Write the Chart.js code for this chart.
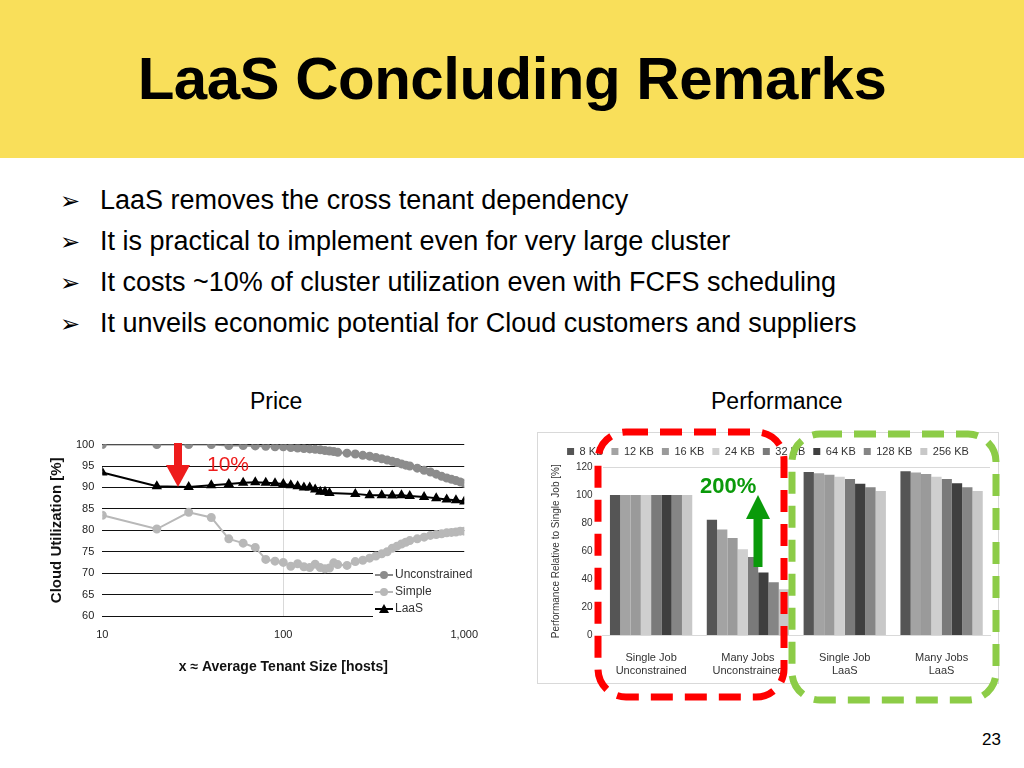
<!DOCTYPE html>
<html>
<head>
<meta charset="utf-8">
<script src="https://cdn.jsdelivr.net/npm/chart.js@4"></script>
<style>
body { margin:0; width:1024px; height:768px; background:#fff; font-family:"Liberation Sans", Arial, sans-serif; position:relative; overflow:hidden; }
#head { position:absolute; left:0; top:0; width:1024px; height:158px; background:#f9df5a; }
#head h1 { margin:0; position:absolute; left:0; width:1024px; top:44px; text-align:center; font-size:60px; font-weight:bold; color:#000; letter-spacing:-0.5px; }
ul { position:absolute; left:60px; top:185px; margin:0; padding:0; list-style:none; font-size:27px; }
li { height:41px; }
li span.m { display:inline-block; width:40px; font-size:24px; }
.lbl { position:absolute; font-size:23px; }
#c1 { position:absolute; left:40px; top:430px; }
#c2 { position:absolute; left:530px; top:420px; }
#pg { position:absolute; left:982px; top:730px; font-size:17px; }
</style>
</head>
<body>
<div id="head"><h1>LaaS Concluding Remarks</h1></div>
<ul>
<li><span class="m">➢</span>LaaS removes the cross tenant dependency</li>
<li><span class="m">➢</span>It is practical to implement even for very large cluster</li>
<li><span class="m">➢</span>It costs ~10% of cluster utilization even with FCFS scheduling</li>
<li><span class="m">➢</span>It unveils economic potential for Cloud customers and suppliers</li>
</ul>
<div class="lbl" style="left:250px;top:388px">Price</div>
<div class="lbl" style="left:711px;top:388px">Performance</div>
<canvas id="c1" width="450" height="250"></canvas>
<canvas id="c2" width="480" height="290"></canvas>
<div id="pg">23</div>
<script>
// left chart data
const hostSizes = [10,20,30,40,50,60,70,80,90,100,110,120,130,140,150,160,170,180,190,200,225,250,275,300,325,350,375,400,425,450,475,500,550,600,650,700,750,800,850,900,950,1000];
const unconstrained = [100,100,100,100,99.8,99.8,99.7,99.6,99.5,99.5,99.3,99.2,99.1,99,98.9,98.8,98.6,98.5,98.4,98.2,98,97.8,97.5,97.3,97,96.7,96.4,96.1,95.8,95.5,95.2,95,94.5,94,93.6,93.1,92.6,92.2,91.9,91.6,91.3,91];
const simple = [83.5,80.3,84.2,83,78,77,76,73.2,72.8,72.5,71.6,72.2,71.5,71.3,72.1,71.3,71,71.2,72.4,72,71.8,72.7,73,73.5,74,74.5,75,75.8,76.3,76.8,77.2,77.6,78,78.4,78.8,79,79.2,79.4,79.5,79.6,79.8,79.8];
const laasSizes = [10,20,30,40,50,60,70,80,90,100,110,120,130,140,150,160,170,180,250,300,350,400,450,500,600,700,800,900,1000];
const laas = [93.5,90.3,90.1,90.5,90.8,91.1,91.2,91.1,91,90.8,90.5,90.3,90,90,89.5,89,89,88.7,88.5,88.2,88.2,88.1,88.2,88,87.8,87.5,87.2,87,86.7];
const utilTicks = [60,65,70,75,80,85,90,95,100];

// right chart data
const perfCategories = [['Single Job','Unconstrained'],['Many Jobs','Unconstrained'],['Single Job','LaaS'],['Many Jobs','LaaS']];
const blockSizes = ['8 KB','12 KB','16 KB','24 KB','32 KB','64 KB','128 KB','256 KB'];
const perf8 = [100,82.5,116.5,117];
const perf12 = [100,75.5,115.5,116];
const perf16 = [100,69.5,114.5,115];
const perf24 = [100,61.5,113,113];
const perf32 = [100,56,111.5,111.5];
const perf64 = [100,45,108,108.5];
const perf128 = [100,38,105.5,105.5];
const perf256 = [100,33,103,103];
const perfTicks = [0,20,40,60,80,100,120];

const grays = ['#555555','#a3a3a3','#9a9a9a','#cfcfcf','#7a7a7a','#3f3f3f','#858585','#c8c8c8'];

function pts(xs, ys) { return xs.map((x, i) => ({x: x, y: ys[i]})); }

function arrow(ctx, x, y0, y1, color, w, hw, hl) {
    let dir = y1 > y0 ? 1 : -1;
    ctx.fillStyle = color;
    ctx.fillRect(x - w / 2, Math.min(y0, y1 - dir * hl), w, Math.abs(y1 - dir * hl - y0));
    ctx.beginPath();
    ctx.moveTo(x - hw / 2, y1 - dir * hl);
    ctx.lineTo(x + hw / 2, y1 - dir * hl);
    ctx.lineTo(x, y1);
    ctx.closePath();
    ctx.fill();
}

function roundBox(ctx, x, y, w, h, r, color) {
    ctx.save();
    ctx.strokeStyle = color;
    ctx.lineWidth = 7;
    ctx.setLineDash([22, 12]);
    ctx.beginPath();
    ctx.roundRect(x, y, w, h, r);
    ctx.stroke();
    ctx.restore();
}

const leftDecor = {
    id: 'leftDecor',
    afterDraw(chart) {
        let ctx = chart.ctx;
        // legend inside plot
        let items = [['Unconstrained','#8c8c8c','circle'],['Simple','#b8b8b8','circle'],['LaaS','#000','tri']];
        ctx.save();
        ctx.font = '12px "Liberation Sans", Arial';
        ctx.textBaseline = 'middle';
        items.forEach(function (it, i) {
            let y = 145 + i * 17, x = 335;
            ctx.fillStyle = '#fff';
            ctx.fillRect(x - 2, y - 8, 96, 17);
            ctx.strokeStyle = it[1]; ctx.fillStyle = it[1]; ctx.lineWidth = 2;
            ctx.beginPath(); ctx.moveTo(x, y); ctx.lineTo(x + 18, y); ctx.stroke();
            ctx.beginPath();
            if (it[2] === 'circle') ctx.arc(x + 9, y, 4, 0, Math.PI * 2);
            else { ctx.moveTo(x + 4, y + 4); ctx.lineTo(x + 14, y + 4); ctx.lineTo(x + 9, y - 5); }
            ctx.fill();
            ctx.fillStyle = '#333';
            ctx.fillText(it[0], x + 20, y);
        });
        // annotation
        arrow(ctx, 138, 13, 57, '#ee1c1c', 8, 24, 22);
        ctx.fillStyle = '#ee1c1c';
        ctx.font = '21px "Liberation Sans", Arial';
        ctx.fillText('10%', 167, 35);
        ctx.restore();
    }
};

new Chart(document.getElementById('c1').getContext('2d'), {
    type: 'line',
    data: {
        datasets: [
            { label: 'Unconstrained', data: pts(hostSizes, unconstrained), borderColor: '#8c8c8c', backgroundColor: '#8c8c8c', pointRadius: 3.5, borderWidth: 2 },
            { label: 'Simple', data: pts(hostSizes, simple), borderColor: '#b8b8b8', backgroundColor: '#b8b8b8', pointRadius: 3.5, borderWidth: 2 },
            { label: 'LaaS', data: pts(laasSizes, laas), borderColor: '#000', backgroundColor: '#000', pointStyle: 'triangle', pointRadius: 4, borderWidth: 2 }
        ]
    },
    options: {
        responsive: false, animation: false,
        layout: { padding: { top: 13, right: 16, left: 6, bottom: 0 } },
        plugins: { legend: { display: false }, tooltip: { enabled: false } },
        scales: {
            x: {
                type: 'logarithmic', min: 10, max: 1000,
                afterBuildTicks: function (s) { s.ticks = [{value: 10}, {value: 100}, {value: 1000}]; },
                ticks: { color: '#222', font: { size: 11 }, padding: 12 },
                grid: { color: function (c) { return c.tick && c.tick.value === 100 ? '#d9d9d9' : 'rgba(0,0,0,0)'; }, drawTicks: false },
                border: { display: false },
                title: { display: true, text: 'x ≈ Average Tenant Size [hosts]', font: { size: 14, weight: 'bold' }, color: '#111', padding: { top: 6 } }
            },
            y: {
                min: 60, max: 100,
                afterBuildTicks: function (s) { s.ticks = utilTicks.map(v => ({value: v})); },
                ticks: { color: '#222', font: { size: 11 }, padding: 8 },
                grid: { color: '#111', drawTicks: false },
                border: { display: false },
                title: { display: true, text: 'Cloud Utilization [%]', font: { size: 15, weight: 'bold' }, color: '#111', padding: 2 }
            }
        }
    },
    plugins: [leftDecor]
});

const rightDecor = {
    id: 'rightDecor',
    beforeDraw(chart) {
        let ctx = chart.ctx;
        ctx.save();
        ctx.strokeStyle = '#d9d9d9'; ctx.lineWidth = 1;
        ctx.strokeRect(7.5, 12.5, 461, 251);
        ctx.restore();
    },
    afterDraw(chart) {
        let ctx = chart.ctx;
        ctx.save();
        roundBox(ctx, 68, 12, 186, 265, 28, '#ff0000');
        roundBox(ctx, 262, 14, 204, 266, 28, '#8ccc47');
        arrow(ctx, 228, 147, 75, '#0a9a0a', 9, 24, 24);
        ctx.fillStyle = '#0a9a0a';
        ctx.font = 'bold 22px "Liberation Sans", Arial';
        ctx.fillText('200%', 170, 67);
        ctx.restore();
    }
};

const seriesVals = [perf8, perf12, perf16, perf24, perf32, perf64, perf128, perf256];
new Chart(document.getElementById('c2').getContext('2d'), {
    type: 'bar',
    data: {
        labels: perfCategories,
        datasets: blockSizes.map((b, i) => ({ label: b, data: seriesVals[i], backgroundColor: grays[i], categoryPercentage: 0.85, barPercentage: 1 }))
    },
    options: {
        responsive: false, animation: false,
        layout: { padding: { top: 18, right: 20, left: 16, bottom: 24 } },
        plugins: {
            legend: { position: 'top', labels: { boxWidth: 7, boxHeight: 7, font: { size: 11 }, color: '#333', padding: 8 } },
            tooltip: { enabled: false }
        },
        scales: {
            x: {
                ticks: { color: '#333', font: { size: 11 }, padding: 8 },
                grid: { display: false },
                border: { color: '#d9d9d9' }
            },
            y: {
                min: 0, max: 120,
                afterBuildTicks: function (s) { s.ticks = perfTicks.map(v => ({value: v})); },
                ticks: { color: '#333', font: { size: 10 }, padding: 10 },
                grid: { color: function (c) { return c.tick && c.tick.value === 120 ? '#d9d9d9' : 'rgba(0,0,0,0)'; }, drawTicks: false },
                border: { display: false },
                title: { display: true, text: 'Performance Relative to Single Job [%]', font: { size: 10 }, color: '#333' }
            }
        }
    },
    plugins: [rightDecor]
});
</script>
</body>
</html>
